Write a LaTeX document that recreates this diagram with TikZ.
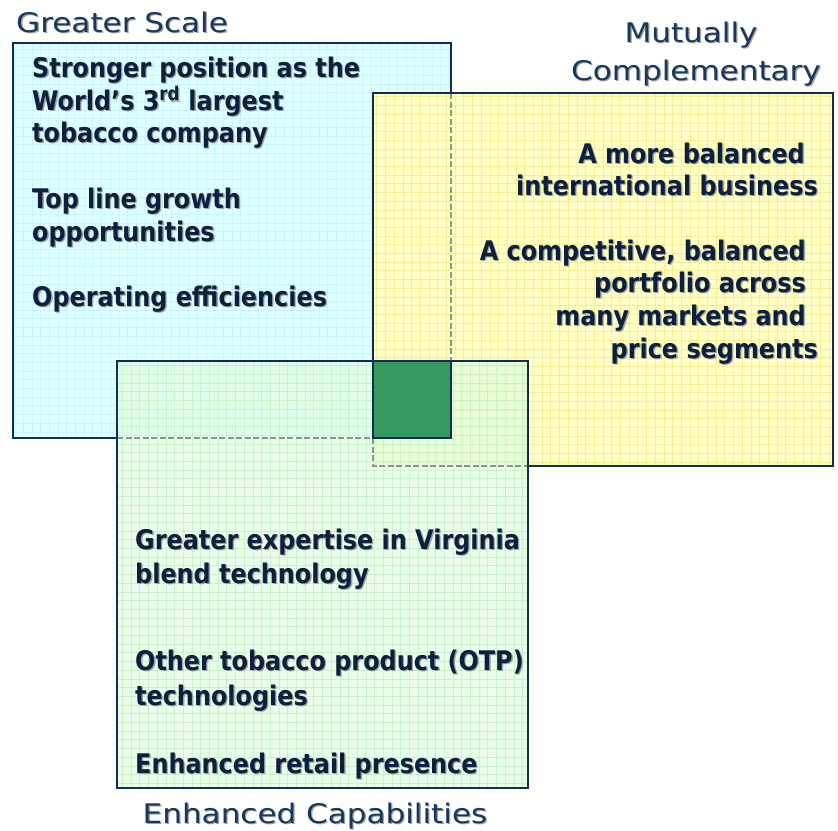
\documentclass[tikz,border=0pt]{standalone}
\usepackage{fontspec}
\setmainfont{DejaVu Sans}
\newfontfamily\bodyfont{DejaVu Sans}[FakeStretch=0.885]
\newfontfamily\headfont{DejaVu Sans}[FakeStretch=1.15]
\definecolor{edge}{HTML}{0F2D55}
\definecolor{ink}{HTML}{0B1F3F}
\definecolor{headink}{HTML}{17375E}
\definecolor{shade}{HTML}{A0A0A0}
\definecolor{cyanfill}{HTML}{DEFFFF}
\definecolor{cyangrid}{HTML}{C8F4FA}
\definecolor{yellowfill}{HTML}{FFFFC6}
\definecolor{yellowgrid}{HTML}{F4EE96}
\definecolor{greenfill}{HTML}{E0FFE0}
\definecolor{greengrid}{HTML}{CAF2CA}
\definecolor{corefill}{HTML}{37995F}
\definecolor{hidden}{HTML}{86998C}
% text with a soft drop shadow
\newcommand\shadowed[1]{\rlap{\hspace{1.3pt}\raisebox{-1.3pt}{\color{shade}#1}}#1}
\begin{document}
\begin{tikzpicture}[x=1pt,y=-1pt,
  panel/.style={inner sep=0pt, outer sep=0pt, rectangle},
  gridlines/.style={path picture={\draw[#1, line width=0.8pt, step=8.7pt]
     (path picture bounding box.south west) grid (path picture bounding box.north east);}},
  border/.style={draw=edge, line width=2.4pt},
  hiddenedge/.style={draw=hidden, line width=2pt, dash pattern=on 6pt off 2.5pt},
  body/.style={inner sep=0pt, text=ink, font=\bodyfont\fontsize{27}{32}\selectfont\bfseries},
  head/.style={inner sep=0pt, text=headink, font=\headfont\fontsize{27}{32}\selectfont}]
\useasboundingbox (0,0) rectangle (838,830);

% the three panels
\node[panel, fill=cyanfill, gridlines=cyangrid, minimum width=438pt, minimum height=395pt] (scale) at (232,240.5) {};
\node[panel, fill=yellowfill, gridlines=yellowgrid, minimum width=460pt, minimum height=373pt] (compl) at (603,279.5) {};
\node[panel, fill=greenfill, fill opacity=0.72, gridlines=greengrid, minimum width=411pt, minimum height=427pt] (capab) at (322.5,574.5) {};

% edges hidden behind the panels in front
\draw[hiddenedge] (scale.north east |- compl.north) -- (scale.east |- capab.north);
\draw[hiddenedge] (capab.west |- scale.south) -- (compl.west |- scale.south);
\draw[hiddenedge] (compl.west |- scale.south) -- (compl.south west) -- (capab.east |- compl.south);

% visible edges
\draw[border] (scale.west |- capab.north) -- (scale.north west) -- (scale.north east) -- (scale.east |- compl.north);
\draw[border] (scale.west |- capab.north) -- (scale.south west) -- (capab.west |- scale.south);
\draw[border] (compl.west |- capab.north) -- (compl.north west) -- (compl.north east) -- (compl.south east) -- (capab.east |- compl.south);
\draw[border] (capab.north west) rectangle (capab.south east);

% common core
\node[panel, fill=corefill, border, minimum width=78pt, minimum height=77pt] (core) at (412,399.5) {};

% headings
\node[head, anchor=base west] (hscale) at (16,32) {\shadowed{Greater Scale}};
\node[head, anchor=base] (hcompl1) at (691,42) {\shadowed{Mutually}};
\node[head, anchor=base] (hcompl2) at (696,80) {\shadowed{Complementary}};
\node[head, anchor=base] (hcapab) at (315,823) {\shadowed{Enhanced Capabilities}};

% Greater Scale
\node[body, anchor=base west] (s1) at (32,77) {\shadowed{Stronger position as the}};
\node[body, anchor=base west] (s2) at (32,110) {\shadowed{World’s 3\textsuperscript{rd} largest}};
\node[body, anchor=base west] (s3) at (32,142) {\shadowed{tobacco company}};
\node[body, anchor=base west] (s4) at (32,208) {\shadowed{Top line growth}};
\node[body, anchor=base west] (s5) at (32,241) {\shadowed{opportunities}};
\node[body, anchor=base west] (s6) at (32,306) {\shadowed{Operating efficiencies}};

% Mutually Complementary
\node[body, anchor=base east] (c1) at (805,163) {\shadowed{A more balanced}};
\node[body, anchor=base east] (c2) at (818,195) {\shadowed{international business}};
\node[body, anchor=base east] (c3) at (806,260) {\shadowed{A competitive, balanced}};
\node[body, anchor=base east] (c4) at (806,292) {\shadowed{portfolio across}};
\node[body, anchor=base east] (c5) at (806,325) {\shadowed{many markets and}};
\node[body, anchor=base east] (c6) at (818,358) {\shadowed{price segments}};

% Enhanced Capabilities
\node[body, anchor=base west] (e1) at (135,549) {\shadowed{Greater expertise in Virginia}};
\node[body, anchor=base west] (e2) at (135,583) {\shadowed{blend technology}};
\node[body, anchor=base west] (e3) at (135,670) {\shadowed{Other tobacco product (OTP)}};
\node[body, anchor=base west] (e4) at (135,705) {\shadowed{technologies}};
\node[body, anchor=base west] (e5) at (135,773) {\shadowed{Enhanced retail presence}};
\end{tikzpicture}
\end{document}
